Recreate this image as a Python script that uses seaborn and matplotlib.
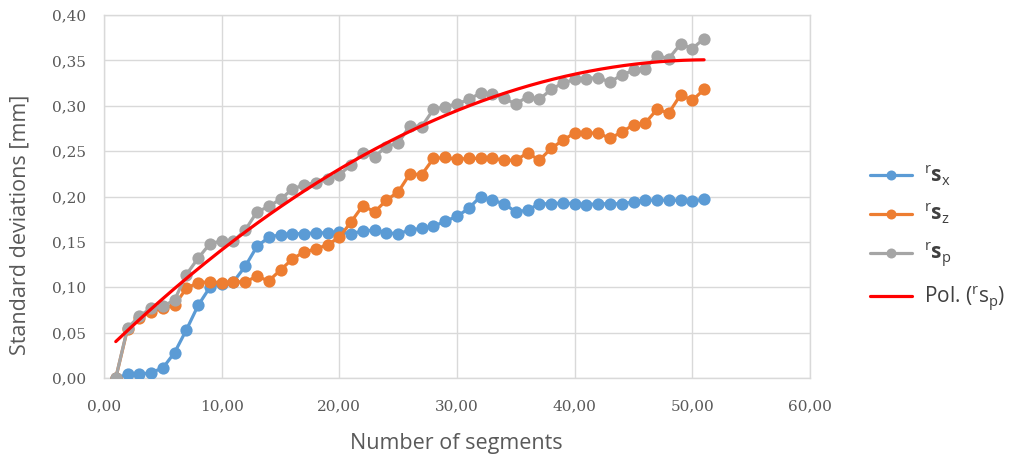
import numpy as np
import pandas as pd
import matplotlib
matplotlib.use("Agg")
import matplotlib.pyplot as plt
import seaborn as sns
from matplotlib.ticker import FuncFormatter, MultipleLocator
from matplotlib.lines import Line2D

segments = list(range(1, 52))
s_x = [0.000, 0.004, 0.004, 0.006, 0.011, 0.028, 0.053, 0.080, 0.100, 0.104,
       0.106, 0.123, 0.145, 0.155, 0.158, 0.159, 0.159, 0.160, 0.160, 0.161,
       0.159, 0.162, 0.163, 0.160, 0.159, 0.163, 0.165, 0.167, 0.173, 0.178,
       0.187, 0.200, 0.196, 0.192, 0.183, 0.185, 0.192, 0.192, 0.193, 0.192,
       0.191, 0.192, 0.192, 0.192, 0.194, 0.196, 0.196, 0.196, 0.196, 0.195,
       0.197]
s_z = [0.000, 0.054, 0.066, 0.073, 0.077, 0.080, 0.099, 0.105, 0.106, 0.105,
       0.106, 0.106, 0.112, 0.107, 0.119, 0.131, 0.139, 0.142, 0.147, 0.155,
       0.172, 0.190, 0.183, 0.196, 0.205, 0.225, 0.224, 0.242, 0.243, 0.241,
       0.242, 0.242, 0.242, 0.240, 0.240, 0.248, 0.240, 0.253, 0.262, 0.270,
       0.270, 0.270, 0.264, 0.271, 0.279, 0.281, 0.296, 0.292, 0.312, 0.306,
       0.318]
s_p = [0.000, 0.055, 0.068, 0.077, 0.079, 0.086, 0.114, 0.132, 0.148, 0.151,
       0.151, 0.163, 0.183, 0.189, 0.197, 0.208, 0.213, 0.215, 0.219, 0.224,
       0.235, 0.248, 0.244, 0.255, 0.259, 0.278, 0.277, 0.296, 0.299, 0.302,
       0.307, 0.314, 0.313, 0.308, 0.302, 0.310, 0.307, 0.318, 0.325, 0.329,
       0.330, 0.331, 0.326, 0.334, 0.339, 0.341, 0.355, 0.352, 0.368, 0.363,
       0.374]

labels = [r'$^{\mathrm{r}}\mathbf{s}_{\mathrm{x}}$',
          r'$^{\mathrm{r}}\mathbf{s}_{\mathrm{z}}$',
          r'$^{\mathrm{r}}\mathbf{s}_{\mathrm{p}}$']
trend_label = r'Pol. ($^{\mathrm{r}}\mathrm{s}_{\mathrm{p}}$)'
colors = ['#5B9BD5', '#ED7D31', '#A5A5A5']
trend_color = '#FF0000'

df = pd.DataFrame({
    'x': segments * 3,
    'y': s_x + s_z + s_p,
    'series': [labels[0]] * 51 + [labels[1]] * 51 + [labels[2]] * 51,
})

# polynomial (order 2) trendline fitted to s_p, as in the spreadsheet
coef = np.polyfit(segments, s_p, 2)
xt = np.linspace(1, 51, 200)
yt = np.polyval(coef, xt)

sns.set_style("white")
plt.rcParams['font.family'] = ['Open Sans', 'DejaVu Sans']
plt.rcParams['mathtext.fontset'] = 'custom'
plt.rcParams['mathtext.rm'] = 'Open Sans'
plt.rcParams['mathtext.bf'] = 'Open Sans:bold'

fig = plt.figure(figsize=(10.22, 4.59), dpi=100)
ax = fig.add_axes([104/1022, 1 - 378/459, (810-104)/1022, (378-15)/459])

sns.lineplot(data=df, x='x', y='y', hue='series', palette=colors,
             marker='o', markersize=8.8, markeredgewidth=0, linewidth=2.3,
             ax=ax, legend=False, zorder=3)
ax.plot(xt, yt, color=trend_color, linewidth=2.3, zorder=4)

ax.set_xlim(0, 60)
ax.set_ylim(0, 0.40)
ax.xaxis.set_major_locator(MultipleLocator(10))
ax.yaxis.set_major_locator(MultipleLocator(0.05))
ax.xaxis.set_major_formatter(FuncFormatter(lambda v, p: f"{v:.2f}".replace('.', ',')))
ax.yaxis.set_major_formatter(FuncFormatter(lambda v, p: f"{v:.2f}".replace('.', ',')))
ax.grid(True, color='#D9D9D9', linewidth=1.0, zorder=0)
ax.set_axisbelow(True)
for sp in ax.spines.values():
    sp.set_color('#D9D9D9')
    sp.set_linewidth(1.0)
ax.tick_params(axis='both', length=0, labelcolor='#595959')
ax.tick_params(axis='y', pad=13)
ax.tick_params(axis='x', pad=15)
for t in ax.get_xticklabels() + ax.get_yticklabels():
    t.set_fontfamily('DejaVu Serif')
    t.set_fontsize(11)

ax.set_xlabel('Number of segments', fontsize=15.5, color='#595959')
ax.set_ylabel('Standard deviations [mm]', fontsize=15.5, color='#595959')
ax.xaxis.set_label_coords((456 - 104) / 706, (378 - 443) / 363)
ax.xaxis.label.set_va('center')
ax.yaxis.set_label_coords((20 - 104) / 706, (378 - 225) / 363)
ax.yaxis.label.set_va('center')
ax.yaxis.label.set_ha('center')

handles = [Line2D([], [], color=c, marker='o', markersize=7.2, markeredgewidth=0,
                  linewidth=2.3) for c in colors]
handles.append(Line2D([], [], color=trend_color, linewidth=2.3))
leg = fig.legend(handles, labels + [trend_label], loc='center left',
                 bbox_to_anchor=(870/1022, 1 - 238/459), frameon=False,
                 fontsize=15, handlelength=2.0, labelspacing=0.68,
                 handletextpad=0.6, borderpad=0, borderaxespad=0,
                 labelcolor='#404040')

fig.savefig('out.png', dpi=100)
